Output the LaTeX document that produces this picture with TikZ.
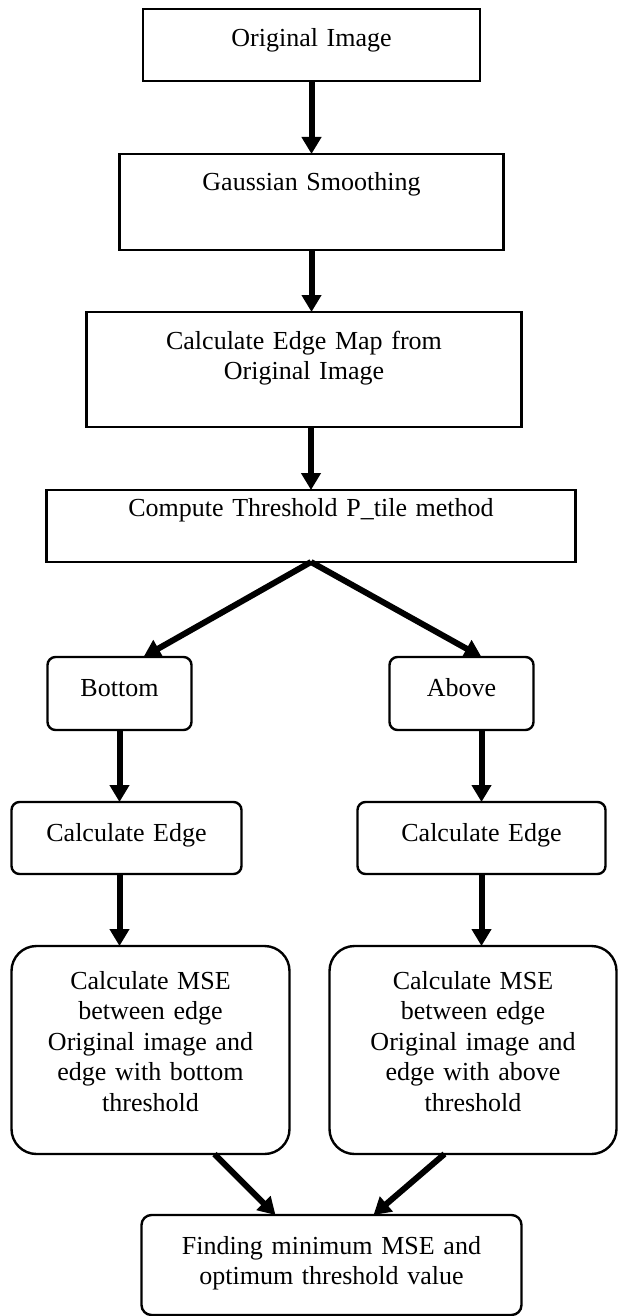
\documentclass[tikz,border=0pt]{standalone}
\usepackage{fontspec}
\setmainfont{Liberation Serif}
\usetikzlibrary{arrows.meta, positioning}

\begin{document}
\begin{tikzpicture}[
    x=1pt, y=-1pt,
    node distance=30pt,
    every node/.style={font=\fontsize{13}{15.25}\selectfont},
    stage/.style={rectangle, draw, line width=1.2pt, align=center, inner xsep=0pt, inner ysep=0pt, outer sep=0pt},
    branch/.style={stage, rounded corners=4pt, text height=19.5pt},
    mse/.style={stage, rounded corners=12.5pt, text width=139pt, text height=21.5pt, text depth=82.5pt},
    arr/.style={-{Triangle[length=8.5pt, width=9.5pt]}, line width=3pt}
]
\useasboundingbox (0,0) rectangle (309,658);

% Main chain
\node[stage, text width=168.5pt, text height=19pt, text depth=17pt] (orig) at (155.75,22.5) {Original Image};
\node[stage, text width=192pt, text height=18.5pt, text depth=29.5pt, below=36.5pt of orig] (gauss) {Gaussian Smoothing};
\node[stage, text width=217.5pt, text height=18.5pt, text depth=39pt, below=31pt of gauss, xshift=-3.75pt] (edgemap) {Calculate Edge Map from\\Original Image};
\node[stage, text width=264.5pt, text height=13pt, text depth=23pt, below=31.5pt of edgemap, xshift=3.5pt] (ptile) {Compute Threshold P\_tile method};

% Two branches
\node[branch, text width=72pt, text depth=17pt, below=47.5pt of ptile, xshift=-95.75pt] (bottom) {Bottom};
\node[branch, text width=72pt, text depth=17pt, below=47.5pt of ptile, xshift=75.25pt] (above) {Above};
\node[branch, text width=115pt, text depth=16.5pt, below=36pt of bottom, xshift=3.5pt] (edgebot) {Calculate Edge};
\node[branch, text width=124pt, text depth=16.5pt, below=36pt of above, xshift=10pt] (edgeabv) {Calculate Edge};
\node[mse, below=36pt of edgebot, xshift=12pt] (msebot) {Calculate MSE\\between edge\\Original image and\\edge with bottom\\threshold};
\node[mse, text width=143.5pt, below=36pt of edgeabv, xshift=-4.25pt] (mseabv) {Calculate MSE\\between edge\\Original image and\\edge with above\\threshold};

% Result
\node[stage, rounded corners=5pt, text width=190pt, text height=19.5pt, text depth=30.5pt, below=30.5pt of msebot, xshift=90.5pt] (optimum) {Finding minimum MSE and\\optimum threshold value};

% Arrows
\draw[arr] (orig.south) -- (orig.south |- gauss.north);
\draw[arr] (gauss.south) -- (gauss.south |- edgemap.north);
\draw[arr] (ptile.north |- edgemap.south) -- (ptile.north);
\draw[arr] (ptile.south) -- ([xshift=12pt]bottom.north);
\draw[arr] (ptile.south) -- (above.north -| edgeabv.north);
\draw[arr] (bottom.south) -- (bottom.south |- edgebot.north);
\draw[arr] (above.south -| edgeabv.north) -- (edgeabv.north);
\draw[arr] (bottom.south |- edgebot.south) -- (bottom.south |- msebot.north);
\draw[arr] (edgeabv.south) -- (edgeabv.south |- mseabv.north);
\draw[arr] ([xshift=32pt]msebot.south) -- ([xshift=-28pt]optimum.north);
\draw[arr] ([xshift=-14.25pt]mseabv.south) -- ([xshift=21pt]optimum.north);

\end{tikzpicture}
\end{document}
